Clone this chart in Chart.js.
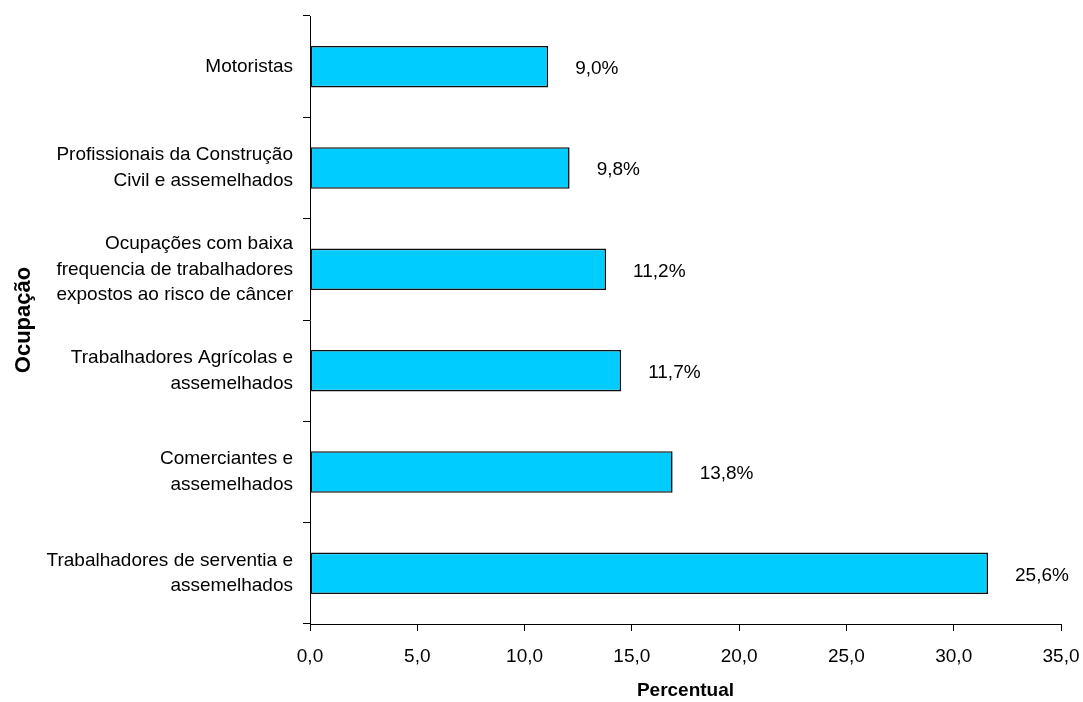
<!DOCTYPE html>
<html>
<head>
<meta charset="utf-8">
<script src="https://cdn.jsdelivr.net/npm/chart.js@4"></script>
<style>
  html, body { margin: 0; padding: 0; background: #fff; }
  #wrap { width: 1083px; height: 702px; }
</style>
</head>
<body>
<div id="wrap"><canvas id="chart" width="1083" height="702"></canvas></div>
<script>
// occupations, top to bottom
const occupations = [
  ["Motoristas"],
  ["Profissionais da Construção", "Civil e assemelhados"],
  ["Ocupações com baixa", "frequencia de trabalhadores", "expostos ao risco de câncer"],
  ["Trabalhadores Agrícolas e", "assemelhados"],
  ["Comerciantes e", "assemelhados"],
  ["Trabalhadores de serventia e", "assemelhados"]
];
// bar lengths as drawn on the axis
const barValues = [11.1, 12.1, 13.8, 14.5, 16.9, 31.6];
// percentages printed next to the bars
const percentLabels = ["9,0%", "9,8%", "11,2%", "11,7%", "13,8%", "25,6%"];

const FONT = "'Liberation Sans', Arial, sans-serif";

// writes the percentage text to the right of each bar
const barLabels = {
  id: "barLabels",
  afterDatasetsDraw(chart) {
    const ctx = chart.ctx;
    const meta = chart.getDatasetMeta(0);
    ctx.save();
    ctx.font = "19px " + FONT;
    ctx.fillStyle = "#000";
    ctx.textAlign = "left";
    ctx.textBaseline = "middle";
    meta.data.forEach((bar, i) => {
      ctx.fillText(percentLabels[i], bar.x + 27, bar.y + 2);
    });
    ctx.restore();
  }
};

new Chart(document.getElementById("chart"), {
  type: "bar",
  data: {
    labels: occupations,
    datasets: [{
      data: barValues,
      backgroundColor: "#00CCFF",
      borderColor: "#111",
      borderWidth: 1.6,
      borderSkipped: false,
      barPercentage: 0.41,
      categoryPercentage: 1
    }]
  },
  options: {
    indexAxis: "y",
    responsive: false,
    animation: false,
    layout: { padding: { top: 16, right: 22, bottom: 0, left: 0 } },
    plugins: { legend: { display: false }, tooltip: { enabled: false } },
    scales: {
      x: {
        min: 0,
        max: 35,
        afterFit: (s) => {
          s.height = 78;
          s.paddingLeft = 0;
          s.paddingRight = 0;
        },
        border: { color: "#000", width: 1 },
        grid: { drawOnChartArea: false, drawTicks: true, tickLength: 7, color: "#000" },
        ticks: {
          stepSize: 5,
          padding: 14,
          color: "#000",
          font: { family: FONT, size: 19 },
          callback: (v) => v.toFixed(1).replace(".", ",")
        },
        title: {
          display: true,
          text: "Percentual",
          color: "#000",
          font: { family: FONT, size: 19, weight: "bold" },
          padding: { top: 0, bottom: 0 }
        }
      },
      y: {
        afterFit: (s) => {
          s.width = 310;
          s.paddingTop = 0;
          s.paddingBottom = 0;
        },
        border: { color: "#000", width: 1 },
        grid: { offset: true, drawOnChartArea: false, drawTicks: true, tickLength: 7, color: "#000" },
        ticks: {
          padding: 10,
          color: "#000",
          font: { family: FONT, size: 19, lineHeight: 1.35 }
        },
        title: {
          display: true,
          text: "Ocupação",
          color: "#000",
          font: { family: FONT, size: 22, weight: "bold" },
          padding: { top: 11, bottom: 0 }
        }
      }
    }
  },
  plugins: [barLabels]
});
</script>
</body>
</html>
